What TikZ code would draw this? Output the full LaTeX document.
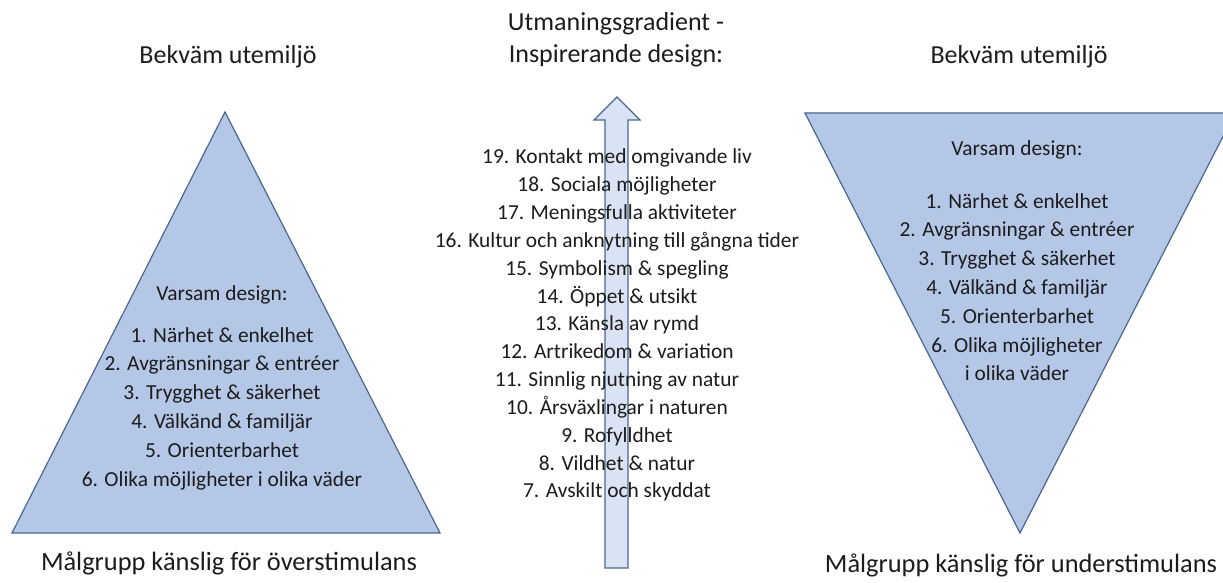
\documentclass[tikz,border=0pt]{standalone}
\usepackage{fontspec}
\setmainfont{Carlito}
\definecolor{trifill}{HTML}{B4C7E7}
\definecolor{triline}{HTML}{4A6790}
\definecolor{arrfill}{HTML}{DAE3F3}
\definecolor{txt}{HTML}{1C1C1C}
\begin{document}
\begin{tikzpicture}[x=1pt,y=-1pt,
  tri/.style={fill=trifill,draw=triline,line width=1.2pt,line join=miter},
  arr/.style={fill=arrfill,draw=triline,line width=1.2pt,line join=miter},
  lst/.style={font=\fontsize{21.4}{25}\selectfont,text=txt,anchor=base,inner sep=0pt},
  ttl/.style={font=\fontsize{26}{30}\selectfont,text=txt,anchor=base,inner sep=0pt}]
\useasboundingbox (0,0) rectangle (1223,583);
\clip (0,0) rectangle (1223,583);
\fill[white] (0,0) rectangle (1223,583);

% shapes
\draw[tri] (12,533) -- (440,533) -- (225,112) -- cycle;
\draw[tri] (805,113) -- (1235,113) -- (1020,533) -- cycle;
\draw[arr] (605,568) -- (605,120) -- (594,120) -- (617,97) -- (640,120) -- (628,120) -- (628,568) -- cycle;

% titles
\node[ttl] (tl) at (228,64) {Bekväm utemiljö};
\node[ttl] (tr) at (1019,64) {Bekväm utemiljö};
\node[ttl] (tc1) at (616,31) {Utmaningsgradient -};
\node[ttl] (tc2) at (616,63) {Inspirerande design:};
\node[ttl,font=\fontsize{26.4}{30}\selectfont] (bl) at (229,570) {Målgrupp känslig för överstimulans};
\node[ttl,font=\fontsize{26.4}{30}\selectfont] (br) at (1021,572) {Målgrupp känslig för understimulans};

% left list
\node[lst] (lh) at (222,300) {Varsam design:};
\foreach \t [count=\i] in {1. Närhet \& enkelhet,2. Avgränsningar \& entréer,3. Trygghet \& säkerhet,4. Välkänd \& familjär,5. Orienterbarhet,6. Olika möjligheter i olika väder}
  \node[lst] (l\i) at (222,{342+28.8*(\i-1)}) {\t};

% right list
\node[lst] (rh) at (1017,155) {Varsam design:};
\foreach \t [count=\i] in {1. Närhet \& enkelhet,2. Avgränsningar \& entréer,3. Trygghet \& säkerhet,4. Välkänd \& familjär,5. Orienterbarhet,6. Olika möjligheter,i olika väder}
  \node[lst] (r\i) at (1017,{208+28.8*(\i-1)}) {\t};

% centre list
\foreach \t [count=\i] in {19. Kontakt med omgivande liv,18. Sociala möjligheter,17. Meningsfulla aktiviteter,16. Kultur och anknytning till gångna tider,15. Symbolism \& spegling,14. Öppet \& utsikt,13. Känsla av rymd,12. Artrikedom \& variation,11. Sinnlig njutning av natur,10. Årsväxlingar i naturen,9. Rofylldhet,8. Vildhet \& natur,7. Avskilt och skyddat}
  \node[lst] (c\i) at (617,{164+27.83*(\i-1)}) {\t};
\end{tikzpicture}
\end{document}
